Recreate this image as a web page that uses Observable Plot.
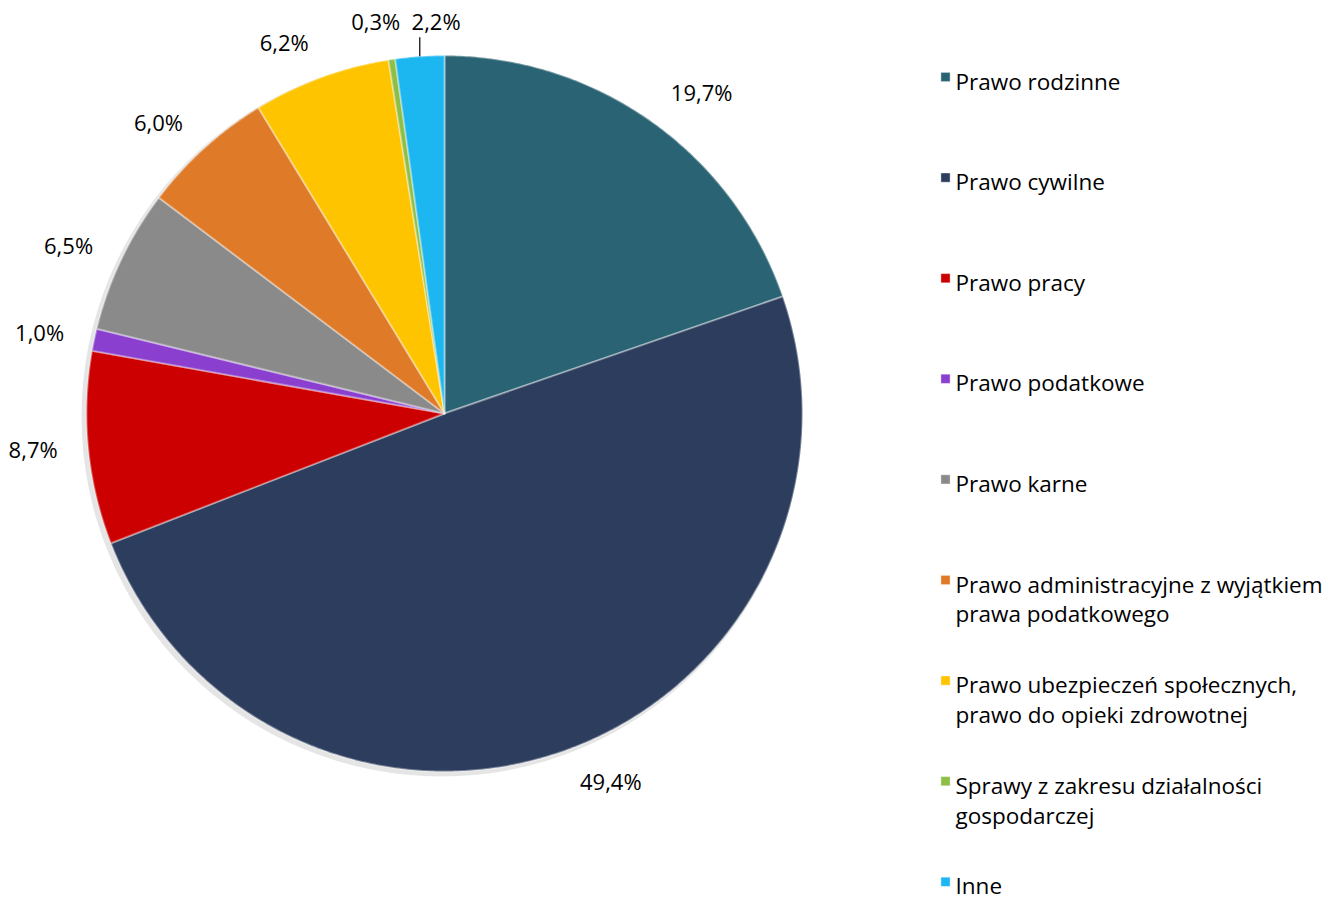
<!DOCTYPE html>
<html><head><meta charset="utf-8">
<script src="https://cdn.jsdelivr.net/npm/d3@7"></script>
<script src="https://cdn.jsdelivr.net/npm/@observablehq/plot@0.6"></script>
<style>body{margin:0;background:#fff;} #chart svg{display:block;}</style>
</head><body><div id="chart"></div>
<script>
// ---- data ----
const categories = ["Prawo rodzinne","Prawo cywilne","Prawo pracy","Prawo podatkowe","Prawo karne",
  "Prawo administracyjne z wyjątkiem prawa podatkowego",
  "Prawo ubezpieczeń społecznych, prawo do opieki zdrowotnej",
  "Sprawy z zakresu działalności gospodarczej","Inne"];
const shares = [19.7, 49.4, 8.7, 1.0, 6.5, 6.0, 6.2, 0.3, 2.2];
const valueLabels = ["19,7%","49,4%","8,7%","1,0%","6,5%","6,0%","6,2%","0,3%","2,2%"];
const legendLabels = ["Prawo rodzinne","Prawo cywilne","Prawo pracy","Prawo podatkowe","Prawo karne",
  "Prawo administracyjne z wyjątkiem\nprawa podatkowego",
  "Prawo ubezpieczeń społecznych,\nprawo do opieki zdrowotnej",
  "Sprawy z zakresu działalności\ngospodarczej","Inne"];
const colors = ["#2A6373","#2C3D5D","#CC0000","#8A3FCF","#8A8A8A","#DE7A28","#FFC400","#8DBE45","#1CB6F0"];

// ---- layout ----
const W = 1340, H = 900, cx = 444, cy = 413, R = 358;
const FONT = "'Open Sans', 'Noto Sans', sans-serif";
const FS = 22;      // value labels
const LFS = 22.5;   // legend
const toX = px => (px - cx) / R, toY = py => (cy - py) / R;

const total = d3.sum(shares);
let acc = 0;
const slices = shares.map((v, i) => {
  const a0 = acc / total * 2 * Math.PI; acc += v;
  const a1 = acc / total * 2 * Math.PI;
  return {i, name: categories[i], a0, a1, mid: (a0 + a1) / 2};
});

const pts = [];
for (const s of slices) {
  pts.push({name: s.name, x: 0, y: 0});
  const n = Math.max(2, Math.ceil((s.a1 - s.a0) / (Math.PI / 360)));
  for (let k = 0; k <= n; k++) {
    const a = s.a0 + (s.a1 - s.a0) * k / n;
    pts.push({name: s.name, x: Math.sin(a), y: Math.cos(a)});
  }
  pts.push({name: s.name, x: 0, y: 0});
}

// value labels (outside end)
const clamp = v => Math.max(-1, Math.min(1, v));
const labels = [];
const leaders = [];
slices.forEach((s, i) => {
  const sn = Math.sin(s.mid), cs = Math.cos(s.mid);
  const w = valueLabels[i].length * FS * 0.55, h = FS;
  const Rl = R + 28;
  let px = cx + Rl * sn + (w / 2 + 3) * clamp(3 * sn);
  let py = cy - Rl * cs - (h / 2.5) * Math.pow(cs, 3);
  const prev = labels[labels.length - 1];
  if (prev && Math.abs(prev.px - px) < (prev.w + w) / 2 && Math.abs(prev.py - py) < h) {
    // collision: move right of previous label, add leader line
    px = prev.px + (prev.w + w) / 2 + 12;
    py = prev.py;
    const ax = cx + R * sn, ay = cy - R * cs;
    leaders.push({x1: toX(ax), y1: toY(ay), x2: toX(ax), y2: toY(py + h / 2 + 3)});
  }
  labels.push({px, py, w, x: toX(px), y: toY(py), text: valueLabels[i]});
});

// legend
const legX = 945, legText = 955, legBase0 = 84, legStep = 100.6;
const legend = legendLabels.map((t, i) => {
  const base = legBase0 + i * legStep;
  return {text: t, name: categories[i], tx: toX(legText), ty: toY(base - 0.71 * LFS),
          sx: toX(legX), sy: toY(base - 7.5)};
});

const chart = Plot.plot({
  width: W, height: H,
  margin: 0,
  x: {domain: [-1, 1], range: [cx - R, cx + R], axis: null},
  y: {domain: [-1, 1], range: [cy + R, cy - R], axis: null},
  color: {domain: categories, range: colors},
  style: {fontFamily: FONT, background: "#fff"},
  marks: [
    Plot.dot([{x: 0, y: 0}], {x: "x", y: "y", r: R + 2, fill: "#000", fillOpacity: 0.10, dx: -3, dy: 3}),
    Plot.line(pts, {x: "x", y: "y", z: "name", fill: "name", stroke: "#ffffff", strokeOpacity: 0.35,
      strokeWidth: 2, strokeLinejoin: "round", curve: "linear-closed"}),
    Plot.link(leaders, {x1: "x1", y1: "y1", x2: "x2", y2: "y2", stroke: "#000", strokeWidth: 1.2}),
    Plot.text(labels, {x: "x", y: "y", text: "text", fontSize: FS, fill: "#000", textAnchor: "middle"}),
    Plot.dot(legend, {x: "sx", y: "sy", symbol: "square", r: 5.2, fill: "name", stroke: "#ffffff", strokeOpacity: 0.4, strokeWidth: 1}),
    Plot.text(legend, {x: "tx", y: "ty", text: "text", fontSize: LFS, fill: "#000", textAnchor: "start",
      lineAnchor: "top", lineHeight: 1.32})
  ]
});
document.getElementById("chart").append(chart);
</script>
</body></html>
